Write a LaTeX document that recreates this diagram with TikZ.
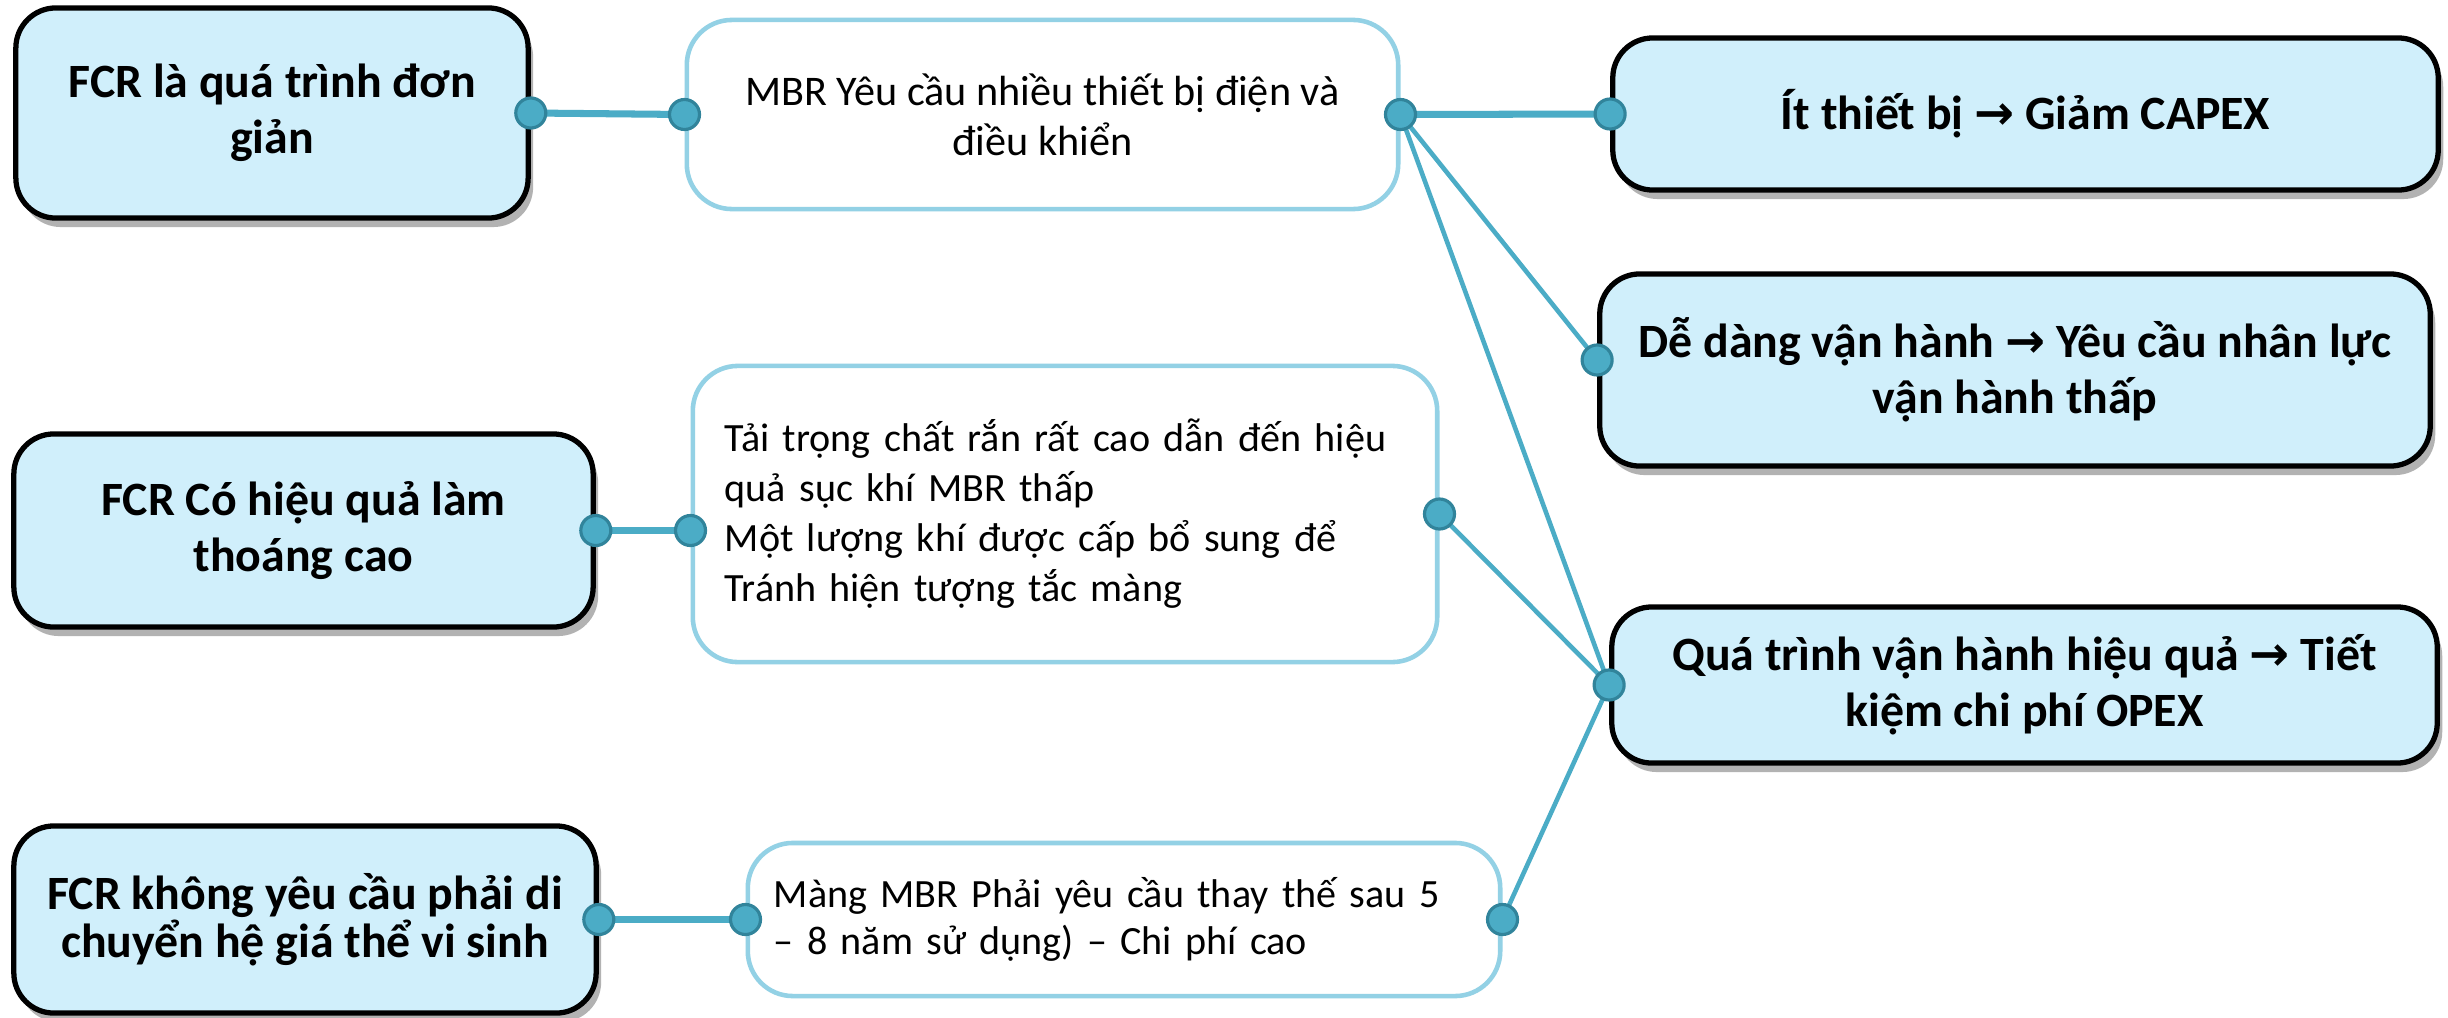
\documentclass[tikz,border=0pt]{standalone}
\usepackage{fontspec}
\setmainfont{Carlito}
\newfontfamily\arrowfont{DejaVu Sans}
\usetikzlibrary{shadows}
\definecolor{boxfill}{RGB}{208,239,251}
\definecolor{linec}{RGB}{75,172,198}
\definecolor{dotc}{RGB}{49,132,155}
\definecolor{wborder}{RGB}{147,209,229}
\tikzset{
 keybox/.style={draw=black, line width=1.5pt, fill=boxfill, rounded corners=0.4cm, align=center,
   font=\bfseries\fontsize{13.6}{15.8}\selectfont, inner sep=0pt,
   drop shadow={shadow xshift=0.05cm, shadow yshift=-0.09cm, opacity=0.3, fill=black}},
 infobox/.style={draw=wborder, line width=1.3pt, fill=white, rounded corners=0.45cm,
   font=\fontsize{12}{14.2}\selectfont, inner sep=0pt},
 dotnode/.style={circle, fill=linec, draw=dotc, line width=0.9pt, minimum size=0.3cm, inner sep=0pt},
 thickconn/.style={draw=linec, line width=2pt},
 thinconn/.style={draw=linec, line width=1.3pt},
}
\begin{document}
\begin{tikzpicture}[x=0.01cm,y=-0.01cm]
\useasboundingbox[fill=white] (0,0) rectangle (2448,1018);
% left key boxes
\node[keybox, minimum width=5.12cm, minimum height=2.10cm] (L1) at (272,113) {FCR là quá trình đơn\\giản};
\node[keybox, minimum width=5.79cm, minimum height=1.93cm] (L2) at (303.5,530.5) {FCR Có hiệu quả làm\\thoáng cao};
\node[keybox, minimum width=5.82cm, minimum height=1.87cm, font=\bfseries\fontsize{13.6}{13.8}\selectfont] (L3) at (305,919.5) {FCR không yêu cầu phải di\\chuyển hệ giá thể vi sinh};
% middle info boxes
\node[infobox, minimum width=7.11cm, minimum height=1.89cm, align=center] (M1) at (1042.5,114.5) {MBR Yêu cầu nhiều thiết bị điện và\\điều khiển};
\node[infobox, minimum height=2.96cm, text width=6.8cm, inner xsep=0.32cm, align=left, font=\fontsize{11.4}{14.2}\selectfont] (M2) at (1065,514) {Tải trọng chất rắn rất cao dẫn đến hiệu\\quả sục khí MBR thấp\\Một lượng khí được cấp bổ sung để\\Tránh hiện tượng tắc màng};
\node[infobox, minimum height=1.53cm, text width=7.0cm, inner xsep=0.26cm, align=left, font=\fontsize{11.4}{13.3}\selectfont] (M3) at (1124,919.5) {Màng MBR Phải yêu cầu thay thế sau 5\\– 8 năm sử dụng) – Chi phí cao};
% right key boxes
\node[keybox, minimum width=8.25cm, minimum height=1.52cm] (R1) at (2025.5,114) {Ít thiết bị {\arrowfont →} Giảm CAPEX};
\node[keybox, minimum width=8.30cm, minimum height=1.92cm] (R2) at (2015,370) {Dễ dàng vận hành {\arrowfont →} Yêu cầu nhân lực\\vận hành thấp};
\node[keybox, minimum width=8.25cm, minimum height=1.56cm] (R3) at (2024.5,685) {Quá trình vận hành hiệu quả {\arrowfont →} Tiết\\kiệm chi phí OPEX};
% connection points
\coordinate (pM2in) at (M2.west |- L2.east);
\coordinate (pR2in) at ([yshift=0.1cm]R2.west);
% connectors
\draw[thickconn] (L1.east) -- (M1.west);
\draw[thickconn] (L2.east) -- (pM2in);
\draw[thickconn] (L3.east) -- (M3.west);
\draw[thickconn] (M1.east) -- (R1.west);
\draw[thinconn] (M1.east) -- (pR2in);
\draw[thinconn] (M1.east) -- (R3.west);
\draw[thinconn] (M2.east) -- (R3.west);
\draw[thinconn] (M3.east) -- (R3.west);
% dots
\node[dotnode] (dL1) at (L1.east) {};
\node[dotnode] (dM1w) at (M1.west) {};
\node[dotnode] (dL2) at (L2.east) {};
\node[dotnode] (dM2w) at (pM2in) {};
\node[dotnode] (dL3) at (L3.east) {};
\node[dotnode] (dM3w) at (M3.west) {};
\node[dotnode] (dM1e) at (M1.east) {};
\node[dotnode] (dM2e) at (M2.east) {};
\node[dotnode] (dM3e) at (M3.east) {};
\node[dotnode] (dR1) at (R1.west) {};
\node[dotnode] (dR2) at (pR2in) {};
\node[dotnode] (dR3) at (R3.west) {};
\end{tikzpicture}
\end{document}
